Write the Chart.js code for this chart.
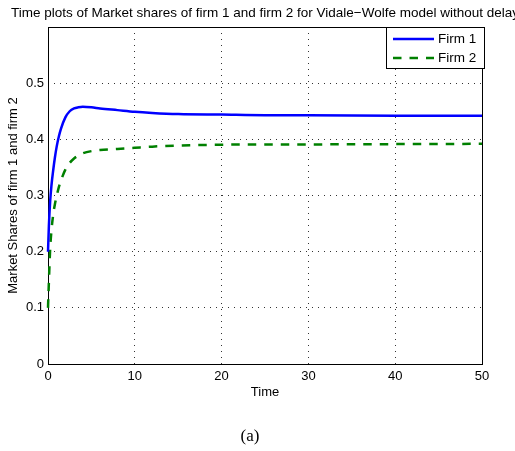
<!DOCTYPE html>
<html>
<head>
<meta charset="utf-8">
<script src="https://cdn.jsdelivr.net/npm/chart.js@4.4.0/dist/chart.umd.min.js"></script>
<style>
  html, body { margin: 0; padding: 0; background: #fff; }
  #wrap { width: 515px; height: 451px; }
</style>
</head>
<body>
<div id="wrap"><canvas id="myChart" width="515" height="451"></canvas></div>
<script>
// values
const times = [0, 0.1, 0.25, 0.4, 0.6, 0.8, 1.0, 1.25, 1.5, 2.0, 2.5, 3.0, 3.5, 4.0, 5.0, 6.0, 8.0, 10, 12, 15, 20, 25, 30, 40, 50];
const firm1 = [0.2, 0.245, 0.29, 0.318, 0.345, 0.368, 0.387, 0.405, 0.419, 0.439, 0.45, 0.455, 0.457, 0.458, 0.457, 0.455, 0.452, 0.449, 0.447, 0.445, 0.444, 0.443, 0.443, 0.442, 0.442];
const firm2 = [0.1, 0.145, 0.205, 0.238, 0.266, 0.285, 0.299, 0.315, 0.327, 0.346, 0.358, 0.366, 0.371, 0.375, 0.379, 0.381, 0.383, 0.385, 0.387, 0.389, 0.3905, 0.391, 0.391, 0.3915, 0.392];
const seriesLabels = ['Firm 1', 'Firm 2'];
const xTicks = [0, 10, 20, 30, 40, 50];
const yTicks = [0, 0.1, 0.2, 0.3, 0.4, 0.5];
const titleText = 'Time plots of Market shares of firm 1 and firm 2 for Vidale\u2212Wolfe model without delay';

const FONT = '"Liberation Sans", Arial, Helvetica, sans-serif';

function toPoints(ys) {
  return times.map(function(t, i) { return {x: t, y: ys[i]}; });
}

// box round the plot, boxed legend, title (not squeezed) and the (a) caption
const matlabBits = {
  id: 'matlabBits',
  beforeDatasetsDraw: function(chart) {
    const ctx = chart.ctx;
    const a = chart.chartArea;
    ctx.save();
    ctx.strokeStyle = '#000';
    ctx.lineWidth = 1;
    ctx.strokeRect(a.left + 0.5, a.top + 0.5, a.right - a.left, a.bottom - a.top);
    ctx.restore();
  },
  afterDraw: function(chart) {
    const ctx = chart.ctx;
    const a = chart.chartArea;
    ctx.save();
    ctx.strokeStyle = '#000';
    ctx.lineWidth = 1;

    ctx.font = '13.5px ' + FONT;
    ctx.textAlign = 'center';
    ctx.textBaseline = 'middle';
    ctx.fillStyle = '#000';
    ctx.fillText(titleText, (a.left + a.right) / 2, 13);

    // legend
    const lx = 386.5, ly = 27.5, lw = 98, lh = 41;
    ctx.fillStyle = '#fff';
    ctx.fillRect(lx, ly, lw, lh);
    ctx.strokeRect(lx, ly, lw, lh);
    ctx.font = '13.5px ' + FONT;
    ctx.textAlign = 'left';
    chart.data.datasets.forEach(function(ds, i) {
      const y = 39 + i * 19;
      ctx.beginPath();
      ctx.setLineDash(ds.borderDash || []);
      ctx.strokeStyle = ds.borderColor;
      ctx.lineWidth = ds.borderWidth;
      ctx.moveTo(393, y);
      ctx.lineTo(434, y);
      ctx.stroke();
      ctx.setLineDash([]);
      ctx.fillStyle = '#000';
      ctx.fillText(ds.label, 438, y);
    });

    ctx.font = '17px "Liberation Serif", "Times New Roman", serif';
    ctx.textAlign = 'center';
    ctx.fillStyle = '#000';
    ctx.fillText('(a)', 250, 437);
    ctx.restore();
  }
};

var ctx = document.getElementById('myChart').getContext('2d');
var myChart = new Chart(ctx, {
  type: 'line',
  data: {
    datasets: [
      {
        label: seriesLabels[0],
        data: toPoints(firm1),
        borderColor: '#0000ff',
        borderWidth: 2.5,
        cubicInterpolationMode: 'monotone',
        clip: {left: 2, top: 0, right: 0, bottom: 0}
      },
      {
        label: seriesLabels[1],
        data: toPoints(firm2),
        borderColor: '#008000',
        borderWidth: 2.5,
        borderDash: [8.5, 8],
        cubicInterpolationMode: 'monotone',
        clip: {left: 2, top: 0, right: 0, bottom: 0}
      }
    ]
  },
  options: {
    responsive: false,
    animation: false,
    pointRadius: 0,
    layout: {padding: {left: 0, right: 33, top: 27, bottom: 47}},
    scales: {
      x: {
        type: 'linear',
        min: 0,
        max: 50,
        afterBuildTicks: function(s) { s.ticks = xTicks.map(function(v) { return {value: v}; }); },
        afterFit: function(s) { s.height = 40; },
        ticks: {color: '#000', padding: 5, maxRotation: 0, font: {family: FONT, size: 13}},
        grid: {color: '#333', drawTicks: false, tickLength: 0},
        border: {display: false, dash: [1, 5]},
        title: {display: true, text: 'Time', color: '#000', font: {family: FONT, size: 13}, padding: {top: 0, bottom: 4}}
      },
      y: {
        min: 0,
        max: 0.6,
        afterBuildTicks: function(s) { s.ticks = yTicks.map(function(v) { return {value: v}; }); },
        afterFit: function(s) { s.width = 48; },
        ticks: {color: '#000', padding: 4, font: {family: FONT, size: 13}},
        grid: {color: '#333', drawTicks: false, tickLength: 0},
        border: {display: false, dash: [1, 5]},
        title: {display: true, text: 'Market Shares of firm 1 and firm 2', color: '#000', font: {family: FONT, size: 13}, padding: {top: 6, bottom: 0}}
      }
    },
    plugins: {
      legend: {display: false},
      tooltip: {enabled: false},
      title: {display: false}
    }
  },
  plugins: [matlabBits]
});
</script>
</body>
</html>
